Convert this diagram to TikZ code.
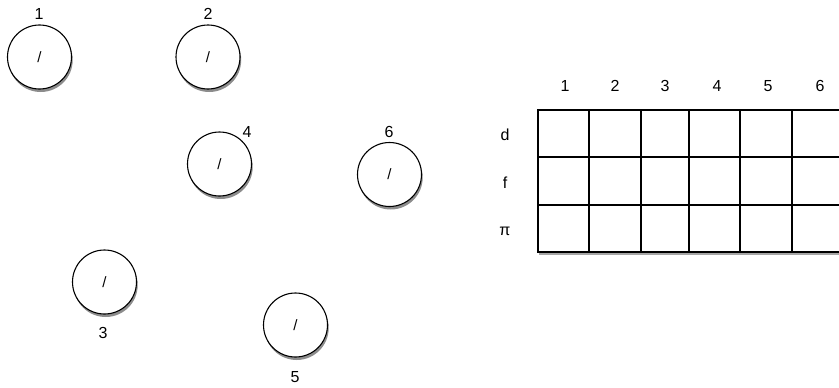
\documentclass[tikz,border=0pt]{standalone}
\usepackage{fontspec}
\setmainfont{Liberation Sans}
\usetikzlibrary{shadows}
\begin{document}
\begin{tikzpicture}[x=1pt,y=-1pt,
  vert/.style={circle,draw=black,line width=1.1pt,fill=white,minimum size=64pt,inner sep=0pt,
    font=\fontsize{15}{15}\selectfont,
    drop shadow={shadow xshift=1.2pt,shadow yshift=-3pt,opacity=0.45,fill=black}},
  lab/.style={font=\fontsize{16}{16}\selectfont,inner sep=0pt}]
\useasboundingbox (0,0) rectangle (839,388);
% vertices
\node[vert] (c1) at (39.5,57) {/};
\node[vert] (c2) at (208,57) {/};
\node[vert] (c4) at (219.5,164) {/};
\node[vert] (c6) at (389.5,174.5) {/};
\node[vert] (c3) at (104.5,282) {/};
\node[vert] (c5) at (295.5,325) {/};
\node[lab] (l1) at (39,14) {1};
\node[lab] (l2) at (208,14) {2};
\node[lab] (l4) at (247,132) {4};
\node[lab] (l6) at (389,132) {6};
\node[lab] (l3) at (103,333) {3};
\node[lab] (l5) at (295,377) {5};
% table
\fill[black,opacity=0.35] (539,113) rectangle (845,255);
\draw[line width=1.1pt,fill=white] (538,110) rectangle (843,252);
\foreach \xx in {589,641,689,740,792} \draw[line width=1.1pt] (\xx,110) -- (\xx,252);
\foreach \yy in {157,205} \draw[line width=1.1pt] (538,\yy) -- (843,\yy);
\node[lab] (h1) at (565,86) {1};
\node[lab] (h2) at (615,86) {2};
\node[lab] (h3) at (665,86) {3};
\node[lab] (h4) at (717,86) {4};
\node[lab] (h5) at (768,86) {5};
\node[lab] (h6) at (820,86) {6};
\node[lab] (rd) at (505,135) {d};
\node[lab] (rf) at (505,183) {f};
\node[lab] (rp) at (505,231) {π};
\end{tikzpicture}
\end{document}
